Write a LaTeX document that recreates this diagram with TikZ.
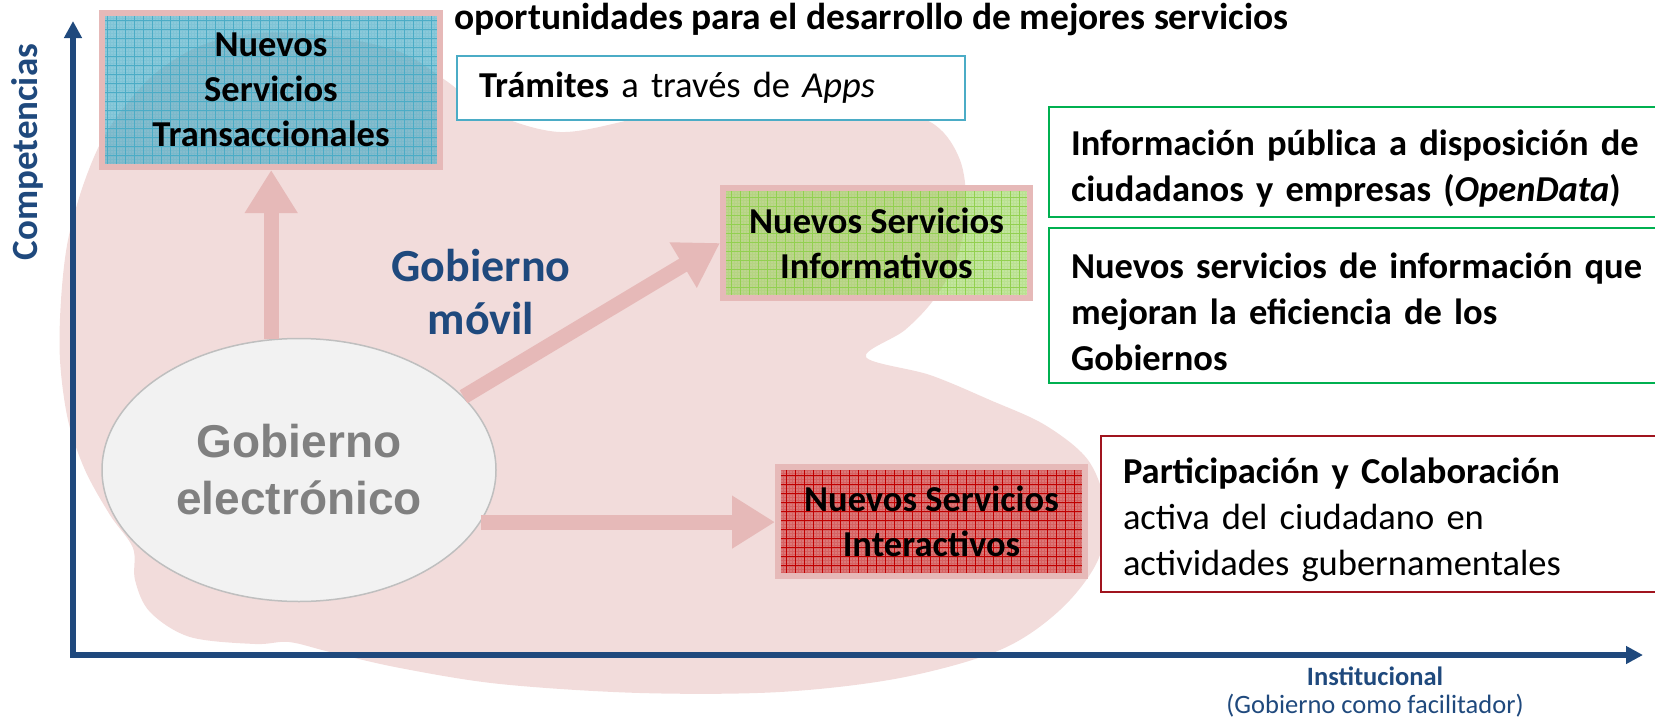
\documentclass[tikz,border=0pt]{standalone}
\usepackage{fontspec}
\setmainfont{Carlito}
\newfontfamily\arialfont{Liberation Sans}
\usetikzlibrary{arrows.meta,shapes.geometric}
\definecolor{axisblue}{RGB}{31,73,125}
\definecolor{blobpink}{RGB}{242,220,219}
\definecolor{rimpink}{RGB}{230,185,184}
\definecolor{aqua}{RGB}{75,172,198}
\definecolor{leaf}{RGB}{146,208,80}
\definecolor{brick}{RGB}{192,0,0}
\definecolor{okgreen}{RGB}{0,176,80}
\definecolor{wine}{RGB}{160,20,30}
\definecolor{ashline}{RGB}{191,191,191}
\definecolor{ashfill}{RGB}{242,242,242}
\definecolor{ashtext}{RGB}{128,128,128}
\newcommand\svcfont{\fontsize{36.5}{45}\selectfont\bfseries}
\newcommand\notefont{\fontsize{36.5}{46}\selectfont}
\newcommand\notestrut{\rule{0pt}{38pt}}
\tikzset{svc/.style n args={3}{draw=rimpink,line width=6pt,fill=#1,fill opacity=#3,text opacity=1,
    inner sep=0pt,align=center,font=\svcfont,
    path picture={
      \draw[#2,line width=0.3pt,draw opacity=0.18] (path picture bounding box.south west) grid[step=3pt] (path picture bounding box.north east);
      \draw[#2,line width=0.7pt] (path picture bounding box.south west) grid[step=9pt] (path picture bounding box.north east);
    }},
  note/.style={draw=#1,line width=2pt,fill=white,align=left,font=\notefont,inner xsep=22pt,inner ysep=0pt},
  fat/.style={draw=rimpink,line width=15pt,-{Triangle[width=50pt,length=43pt]}},
  axis/.style={draw=axisblue,line width=5.5pt,{Triangle[width=17pt,length=17pt]}-{Triangle[width=17pt,length=17pt]}}}

\begin{document}
\begin{tikzpicture}[x=1pt,y=-1pt]
  \useasboundingbox (0,0) rectangle (1655,723);

  \fill [blobpink] plot [smooth cycle,tension=0.55] coordinates {
    (260,33) (330,36) (400,52) (445,80) (490,112) (560,132) (640,118) (720,104)
    (800,98) (880,104) (935,125) (960,160) (966,205) (958,255) (935,298) (905,330)
    (866,357) (930,375) (990,400) (1045,425) (1088,460) (1105,507) (1098,560)
    (1060,610) (1000,650) (900,678) (780,692) (640,693) (500,684) (400,668)
    (330,652) (289,642) (255,644) (190,637) (150,612) (135,580) (133,548) (110,515)
    (85,470) (68,420) (60,360) (61,300) (68,240) (85,180) (108,130) (150,78) (200,46)};

  \coordinate (o) at (73,655);
  \coordinate (ytop) at (73,21);
  \coordinate (xend) at (1643,655);
  \draw [axis] (xend) -- (o) -- (ytop);
  \node [rotate=90,text=axisblue,font=\fontsize{37}{44}\selectfont\bfseries] (ylab) at (27,152) {Competencias};
  \node [align=center,text=axisblue,font=\fontsize{26.5}{28}\selectfont] (xlab) at (1375,692)
    {\textbf{Institucional}\\(Gobierno como facilitador)};

  \node [ellipse,draw=ashline,line width=1.5pt,fill=ashfill,minimum width=394,minimum height=263,
    align=center,text=ashtext,font=\arialfont\fontsize{46}{57}\selectfont\bfseries] (ele) at (299,470) {Gobierno\\electrónico};

  \node [svc={aqua}{aqua}{0.65},minimum width=338,minimum height=154] (trans) at (271,90) {Nuevos\\Servicios\\Transaccionales};
  \node [svc={leaf}{leaf}{0.55},minimum width=307,minimum height=110] (info) at (876.5,243) {Nuevos Servicios\\Informativos};
  \node [svc={brick}{brick}{0.45},minimum width=307,minimum height=109] (inter) at (931.5,521.5) {Nuevos Servicios\\Interactivos};

  \draw [fat] (ele.102) -- (ele.102 |- trans.south);
  \draw [fat] (ele.24) -- (info.west);
  \draw [fat] (ele.-16) -- (ele.-16 -| inter.west);

  \node [align=center,text=axisblue,font=\fontsize{46}{53}\selectfont\bfseries] (movil) at (481,292) {Gobierno\\móvil};

  \node [anchor=base west,font=\fontsize{37.5}{45}\selectfont\bfseries,inner sep=0pt] (head) at (454,29) {oportunidades para el desarrollo de mejores servicios};
  \node [note=aqua,anchor=north west,text width=464,minimum height=64] (apps) at (456,55)
    {\textbf{Trámites} a través de \textit{Apps}};
  \node [note=okgreen,anchor=north west,text width=600,minimum height=110,font=\notefont\bfseries] (odata) at (1048,106)
    {\notestrut Información pública a disposición de\\ciudadanos y empresas (\textit{OpenData})};
  \node [note=okgreen,anchor=north west,text width=600,minimum height=155,font=\notefont\bfseries] (infogob) at (1048,227)
    {\notestrut Nuevos servicios de información que\\mejoran la eficiencia de los\\Gobiernos};
  \node [note=wine,anchor=north west,text width=600,minimum height=156] (partic) at (1100,435)
    {\notestrut\textbf{Participación y Colaboración}\\activa del ciudadano en\\actividades gubernamentales};
\end{tikzpicture}
\end{document}
